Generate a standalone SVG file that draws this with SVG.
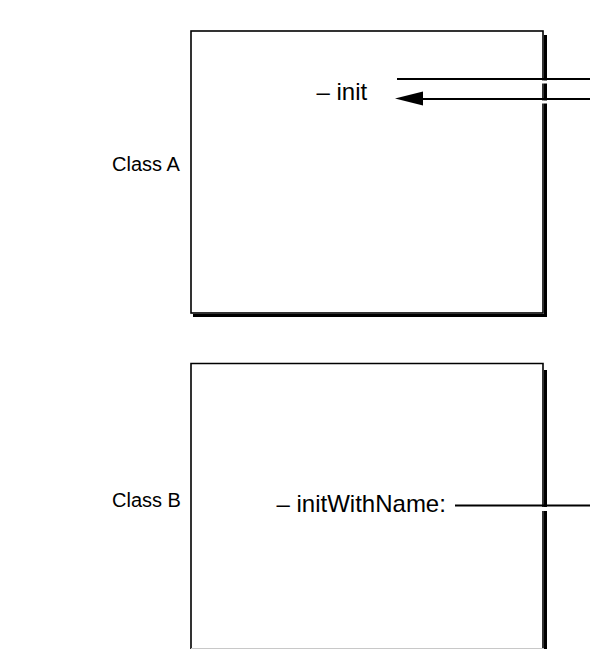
<svg xmlns="http://www.w3.org/2000/svg" width="590" height="649" viewBox="0 0 590 649">
  <defs>
    <style>
      .box { fill: #fff; stroke: #000; stroke-width: 1.6; }
      .shadow { fill: #000; }
      .lbl { font-family: "Liberation Sans", Arial, Helvetica, sans-serif; font-size: 20px; fill: #000; }
      .meth { font-family: "Liberation Sans", Arial, Helvetica, sans-serif; font-size: 24px; fill: #000; }
      .conn { stroke: #000; stroke-width: 2; fill: none; }
      .gap { fill: #fff; }
    </style>
  </defs>
  <rect width="590" height="649" fill="#fff"/>

  <g id="classA">
    <rect class="shadow" x="544" y="35" width="3" height="282"/>
    <rect class="shadow" x="193" y="314" width="354" height="3"/>
    <rect class="box" x="191" y="31" width="352" height="282"/>
    <text class="lbl" x="112" y="171">Class A</text>
    <text class="meth" x="316.5" y="99.5">– init</text>
  </g>

  <g id="classB">
    <rect class="shadow" x="544" y="370" width="3" height="279"/>
    <path d="M191,649 L191,363.5 L543,363.5 L543,649" class="box"/>
    <line x1="191" y1="648.5" x2="544" y2="648.5" stroke="#c8c8c8" stroke-width="1"/>
    <text class="lbl" x="112" y="507">Class B</text>
    <text class="meth" x="276.5" y="511.5">– initWithName:</text>
  </g>

  <g id="connectors">
    <rect class="gap" x="541" y="80.5" width="8" height="3"/>
    <rect class="gap" x="541" y="100.5" width="8" height="3"/>
    <rect class="gap" x="541" y="507" width="8" height="4"/>
    <line class="conn" x1="397" y1="79" x2="590" y2="79"/>
    <line class="conn" x1="423" y1="99" x2="590" y2="99"/>
    <path d="M395,98.5 L423,91.5 L423,105.5 Z" fill="#000"/>
    <line class="conn" x1="455" y1="505.5" x2="590" y2="505.5"/>
  </g>
</svg>
